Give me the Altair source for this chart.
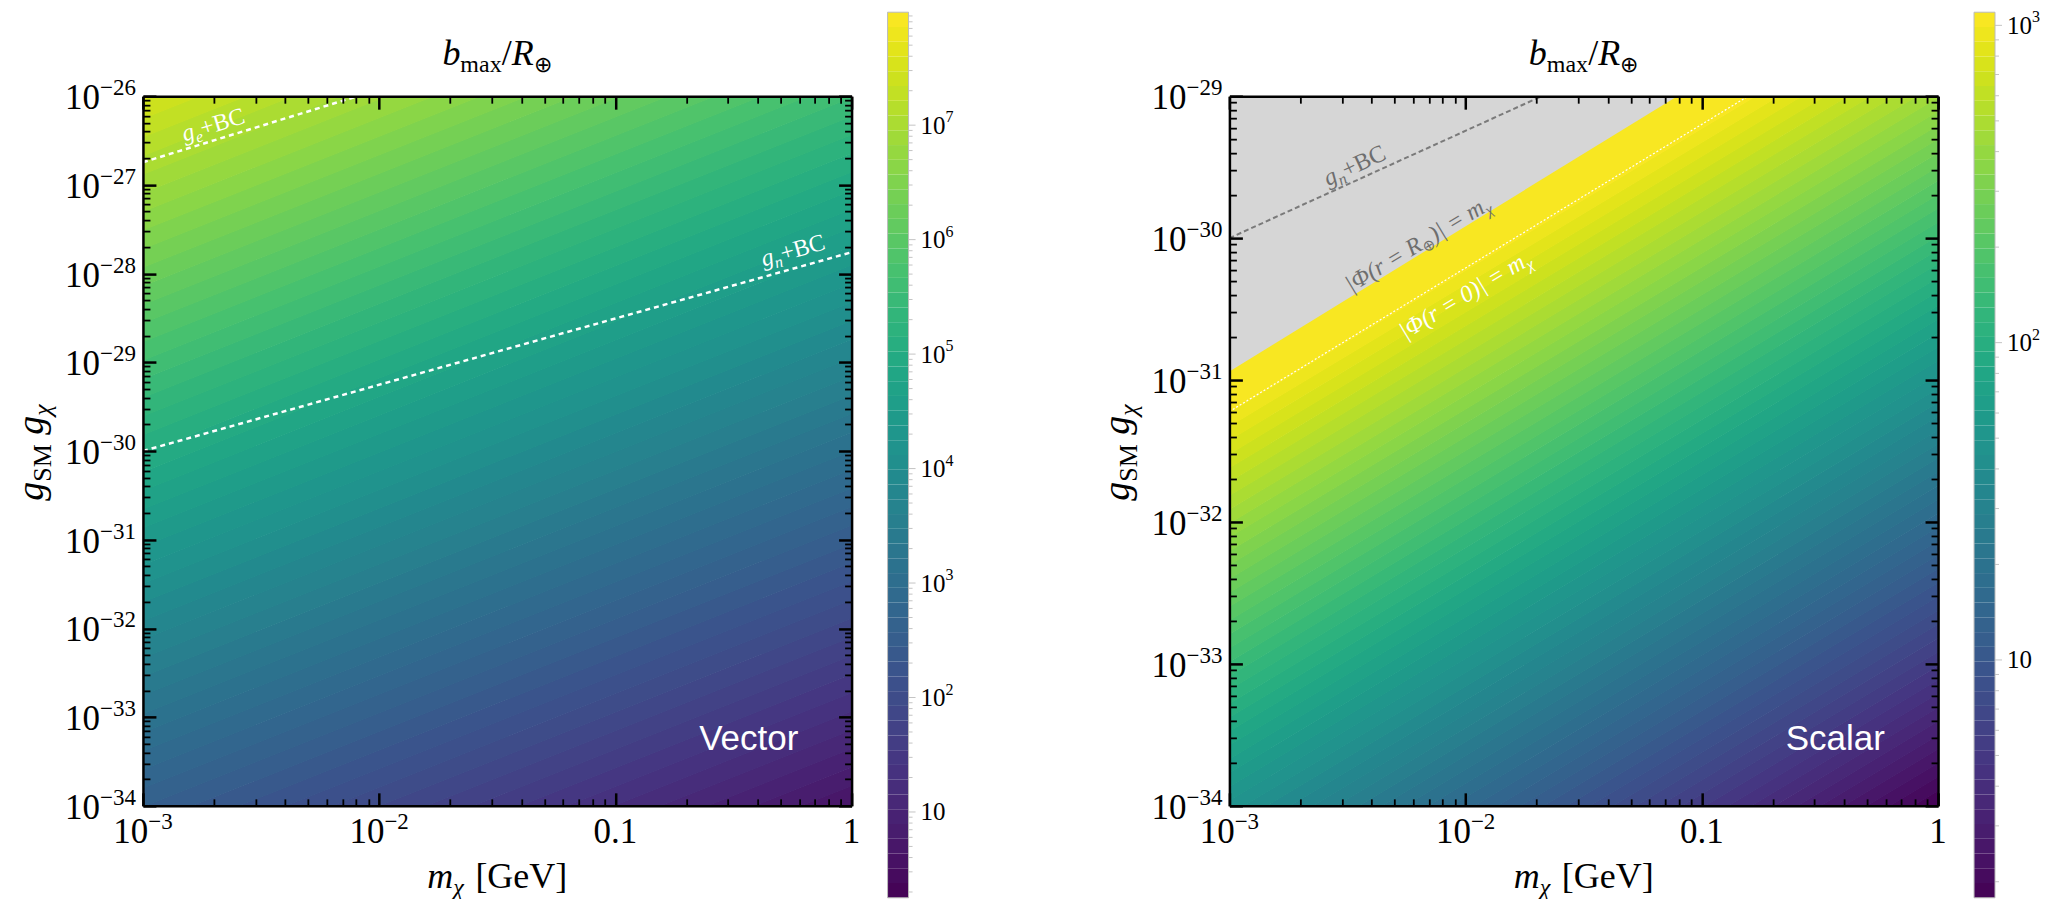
import numpy as np
import pandas as pd
import altair as alt

SERIF = "Liberation Serif"
SANS = "Liberation Sans"

# ---------------- values ----------------
X_DOMAIN = [1e-3, 1.0]
X_MAJOR = [1e-3, 1e-2, 1e-1, 1.0]
X_POW_TICKS = [1e-3, 1e-2]
X_POW_EXP = ["−3", "−2"]
X_PLAIN_TICKS = [1e-1, 1.0]
X_PLAIN_LABELS = ["0.1", "1"]

LEFT_Y_EXP = [-34, -33, -32, -31, -30, -29, -28, -27, -26]
RIGHT_Y_EXP = [-34, -33, -32, -31, -30, -29]

LEFT_CBAR_RANGE = [1.78, 9.7e7]
LEFT_CBAR_EXP = [1, 2, 3, 4, 5, 6, 7]
RIGHT_CBAR_RANGE = [1.78, 1.1e3]
RIGHT_CBAR_EXP = [1, 2, 3]

# iso-lines of log10(b_max/R): log10(g) where each decade level meets m = 1e-3 GeV
LEFT_ISO_LEVEL = [1, 2, 3, 4, 5, 6, 7]
LEFT_ISO_G_AT_MMIN = [-36.57, -34.94, -33.32, -31.69, -30.07, -28.44, -26.81]
LEFT_ISO_SLOPE = 1.057
LEFT_N_LEVELS = 60
RIGHT_ISO_LEVEL = [1, 2, 3]
RIGHT_ISO_G_AT_MMIN = [-35.42, -33.32, -31.22]
RIGHT_ISO_SLOPE = 1.0
RIGHT_N_LEVELS = 60

# curves (end points)
LEFT_GE_M = [1e-3, 8.1e-3]
LEFT_GE_G = [1.8e-27, 1e-26]
LEFT_GN_M = [1e-3, 1.0]
LEFT_GN_G = [1e-30, 1.74e-28]
RIGHT_GN_M = [1e-3, 0.021]
RIGHT_GN_G = [1e-30, 1e-29]
RIGHT_PHI0_M = [1e-3, 0.157]
RIGHT_PHI0_G = [6.0e-32, 1e-29]
RIGHT_PHIR_M = [1e-3, 0.0787]
RIGHT_PHIR_G = [1.15e-31, 1e-29]

# annotations: pieces (text, size, italic, lowered), anchor m, g, angle, colour
LEFT_ANN = [
    ([("g", 24, True, 0), ("e", 16, True, 5), ("+BC", 24, False, 0)], 1.98e-3, 4.8e-27, 343, "white"),
    ([("g", 24, True, 0), ("n", 16, True, 5), ("+BC", 24, False, 0)], 0.564, 1.84e-28, 344.5, "white"),
]
RIGHT_ANN = [
    ([("g", 24, True, 0), ("n", 16, True, 5), ("+BC", 24, False, 0)], 3.38e-3, 3.27e-30, 335, "#6e6e6e"),
    ([("|Φ(r = R", 24, True, 0), ("⊕", 15, False, 5), (")| = m", 24, True, 0), ("χ", 16, True, 5)],
     6.3e-3, 9.2e-31, 329, "#6e6e6e"),
    ([("|Φ(r = 0)| = m", 24, True, 0), ("χ", 16, True, 5)], 1.0e-2, 4.03e-31, 329, "white"),
]

PANEL_NAMES = ["Vector", "Scalar"]
PANEL_NAME_M = [0.367, 0.367]
PANEL_NAME_G = [5.7e-34, 2.96e-34]

# ---------------- layout ----------------
W, H = 709, 710
CB_X, CB_W, CB_TOP, CB_BOT = 745, 21, -84, 802

W_REG = {' ': 0.25, '[': 0.333, ']': 0.333, 'G': 0.722, 'e': 0.444, 'V': 0.722,
         'm': 0.778, 'a': 0.444, 'x': 0.5, 'S': 0.556, 'M': 0.889, '/': 0.278, '⊕': 0.84,
         '+': 0.564, 'B': 0.667, 'C': 0.667, '−': 0.564, '0': 0.5, '1': 0.5, '2': 0.5, '3': 0.5,
         '4': 0.5, '5': 0.5, '6': 0.5, '7': 0.5, '8': 0.5, '9': 0.5, '.': 0.25}
W_IT = {'b': 0.5, 'R': 0.611, 'g': 0.5, 'm': 0.722, 'χ': 0.55, '/': 0.278, 'e': 0.444, 'n': 0.5,
        '|': 0.276, 'Φ': 0.76, '(': 0.333, ')': 0.333, 'r': 0.389, ' ': 0.25, '=': 0.675, '0': 0.5}


def text_width(txt, size, italic):
    table = W_IT if italic else W_REG
    return sum(table.get(c, 0.5) for c in txt) * size


def contour_bands(levels, iso_g, slope, crange, n, overlap):
    fit = np.polyfit(levels, iso_g, 1)
    edges = np.linspace(np.log10(crange[0]), np.log10(crange[1]), n + 1)
    lm0 = np.log10(X_DOMAIN[0])
    rows, cbar = [], []
    for k in range(n):
        lo, hi = edges[k], edges[k + 1]
        val = 10 ** (0.5 * (lo + hi))
        cbar.append({"lo": 10 ** lo, "hi": 10 ** hi, "val": val})
        if k == 0:
            lo -= 20
        if k == n - 1:
            hi += 20
        for lm in (np.log10(X_DOMAIN[0]), np.log10(X_DOMAIN[1])):
            shift = slope * (lm - lm0)
            rows.append({"band": k, "m": 10 ** lm,
                         "g_lo": 10 ** (np.polyval(fit, lo) + shift),
                         "g_hi": 10 ** (np.polyval(fit, hi) + shift + overlap),
                         "val": val})
    return pd.DataFrame(rows), pd.DataFrame(cbar)


def axis(orient, values, major):
    return alt.Axis(orient=orient, values=values, grid=False, ticks=True, tickColor="black",
                    tickSize=alt.ExprRef(expr="-13" if major else "-7"),
                    tickWidth=2.5 if major else 1.8, labels=False, title=None, zindex=2,
                    domain=major, domainColor="black", domainWidth=2.5)


def title_pieces(pieces, center, base, rotated=False):
    widths = [text_width(t, s, i) for t, s, i, _ in pieces]
    total = sum(widths)
    layers, run = [], 0.0
    for (txt, size, italic, shift), w in zip(pieces, widths):
        if txt.strip():
            if rotated:
                x, y, ang = base + shift, center + total / 2 - run, 270
            else:
                x, y, ang = center - total / 2 + run, base + shift, 0
            layers.append(
                alt.Chart(pd.DataFrame({"t": [txt]})).mark_text(
                    align="left", baseline="alphabetic", font=SERIF, fontSize=size,
                    fontStyle="italic" if italic else "normal", color="black", angle=ang
                ).encode(x=alt.value(x), y=alt.value(y), text="t:N")
            )
        run += w
    return layers


def rotated_annotation(pieces, m, g, angle, color, xs, ys):
    widths = [text_width(t, s, i) for t, s, i, _ in pieces]
    total = sum(widths)
    layers, run = [], -total / 2
    for (txt, size, italic, shift), w in zip(pieces, widths):
        layers.append(
            alt.Chart(pd.DataFrame({"t": [txt], "m": [m], "g": [g]})).mark_text(
                align="left", baseline="alphabetic", font=SERIF, fontSize=size,
                fontStyle="italic" if italic else "normal", color=color, angle=angle,
                dx=run, dy=8 + shift
            ).encode(x=alt.X("m:Q", scale=xs, axis=None), y=alt.Y("g:Q", scale=ys, axis=None), text="t:N")
        )
        run += w
    return layers


def panel(y_exp, bands, cbar, crange, cexp, extra_layers, ann, name_idx):
    ydom = [10.0 ** y_exp[0], 10.0 ** y_exp[-1]]
    y_major = [10.0 ** e for e in y_exp]
    y_minor = [k * 10.0 ** d for d in y_exp[:-1] for k in range(2, 10)]
    x_minor = [k * 10.0 ** d for d in (-3, -2, -1) for k in range(2, 10)]
    xs = alt.Scale(type="log", domain=X_DOMAIN, nice=False)
    ys = alt.Scale(type="log", domain=ydom, nice=False)
    cs = alt.Scale(type="log", domain=crange, scheme="viridis", nice=False)
    cbs = alt.Scale(type="log", domain=crange, range=[CB_BOT, CB_TOP], nice=False)

    layers = []
    # filled contour bands
    layers.append(
        alt.Chart(bands).mark_area(clip=True, interpolate="linear").encode(
            x=alt.X("m:Q", scale=xs, axis=axis("bottom", X_MAJOR, True)),
            y=alt.Y("g_lo:Q", scale=ys, axis=axis("left", y_major, True)),
            y2="g_hi:Q",
            color=alt.Color("val:Q", scale=cs, legend=None),
            detail="band:N",
        )
    )
    layers += extra_layers(xs, ys)

    for pieces, m, g, ang, col in ann:
        layers += rotated_annotation(pieces, m, g, ang, col, xs, ys)
    layers.append(
        alt.Chart(pd.DataFrame({"t": [PANEL_NAMES[name_idx]], "m": [PANEL_NAME_M[name_idx]],
                                "g": [PANEL_NAME_G[name_idx]]})).mark_text(
            font=SANS, fontSize=35, color="white", align="center", baseline="middle"
        ).encode(x=alt.X("m:Q", scale=xs, axis=None), y=alt.Y("g:Q", scale=ys, axis=None), text="t:N")
    )

    # extra axes: minor ticks and mirrored ticks
    corner = pd.DataFrame({"m": X_DOMAIN, "g": ydom})
    for xo, yo, major in (("bottom", "left", False), ("top", "right", True), ("top", "right", False)):
        layers.append(
            alt.Chart(corner).mark_point(opacity=0).encode(
                x=alt.X("m:Q", scale=xs, axis=axis(xo, X_MAJOR if major else x_minor, major)),
                y=alt.Y("g:Q", scale=ys, axis=axis(yo, y_major if major else y_minor, major)),
            )
        )

    # tick labels 10^n with raised exponents
    ylab = pd.DataFrame({"g": y_major, "e": ["−" + str(-e) for e in y_exp]})
    exp_w = text_width("−26", 23, False)
    layers.append(alt.Chart(ylab).mark_text(
        align="right", baseline="alphabetic", font=SERIF, fontSize=35, color="black", dy=13
    ).encode(x=alt.value(-7 - exp_w), y=alt.Y("g:Q", scale=ys, axis=None), text=alt.value("10")))
    layers.append(alt.Chart(ylab).mark_text(
        align="right", baseline="alphabetic", font=SERIF, fontSize=23, color="black", dy=-1
    ).encode(x=alt.value(-7), y=alt.Y("g:Q", scale=ys, axis=None), text="e:N"))

    xlab = pd.DataFrame({"m": X_POW_TICKS, "e": X_POW_EXP})
    w10 = text_width("10", 35, False)
    tot = w10 + text_width("−3", 23, False)
    layers.append(alt.Chart(xlab).mark_text(
        align="left", baseline="alphabetic", font=SERIF, fontSize=35, color="black", dx=-tot / 2
    ).encode(x=alt.X("m:Q", scale=xs, axis=None), y=alt.value(H + 37), text=alt.value("10")))
    layers.append(alt.Chart(xlab).mark_text(
        align="left", baseline="alphabetic", font=SERIF, fontSize=23, color="black", dx=-tot / 2 + w10
    ).encode(x=alt.X("m:Q", scale=xs, axis=None), y=alt.value(H + 23), text="e:N"))
    layers.append(alt.Chart(pd.DataFrame({"m": X_PLAIN_TICKS, "t": X_PLAIN_LABELS})).mark_text(
        align="center", baseline="alphabetic", font=SERIF, fontSize=35, color="black"
    ).encode(x=alt.X("m:Q", scale=xs, axis=None), y=alt.value(H + 37), text="t:N"))

    # colour bar
    layers.append(alt.Chart(cbar).mark_rect().encode(
        x=alt.value(CB_X), x2=alt.value(CB_X + CB_W),
        y=alt.Y("lo:Q", scale=cbs, axis=None), y2="hi:Q",
        color=alt.Color("val:Q", scale=cs, legend=None)))
    lo_e = int(np.floor(np.log10(crange[0])))
    hi_e = int(np.floor(np.log10(crange[1])))
    cmaj = [10.0 ** e for e in cexp]
    cmin = [k * 10.0 ** d for d in range(lo_e, hi_e + 1) for k in range(2, 10)
            if crange[0] <= k * 10.0 ** d <= crange[1]]
    for vals, ln in ((cmaj, 7), (cmin, 4)):
        layers.append(alt.Chart(pd.DataFrame({"v": vals})).mark_rule(color="#c4c4c4", strokeWidth=1).encode(
            x=alt.value(CB_X + CB_W), x2=alt.value(CB_X + CB_W + ln),
            y=alt.Y("v:Q", scale=cbs, axis=None)))
    layers.append(alt.Chart(pd.DataFrame({"t": ["cb"]})).mark_rect(
        fillOpacity=0, stroke="#bbbbbb", strokeWidth=1).encode(
        x=alt.value(CB_X), x2=alt.value(CB_X + CB_W), y=alt.value(CB_TOP), y2=alt.value(CB_BOT)))
    clab = pd.DataFrame({"v": cmaj, "e": ["" if e == 1 else str(e) for e in cexp]})
    layers.append(alt.Chart(clab).mark_text(
        align="left", baseline="alphabetic", font=SERIF, fontSize=25, color="black", dy=8.5
    ).encode(x=alt.value(CB_X + CB_W + 12), y=alt.Y("v:Q", scale=cbs, axis=None), text=alt.value("10")))
    layers.append(alt.Chart(clab).mark_text(
        align="left", baseline="alphabetic", font=SERIF, fontSize=16, color="black", dy=-3
    ).encode(x=alt.value(CB_X + CB_W + 12 + text_width("10", 25, False)),
             y=alt.Y("v:Q", scale=cbs, axis=None), text="e:N"))
    # invisible guard so both panels have the same top extent
    layers.append(alt.Chart(pd.DataFrame({"t": ["g"]})).mark_rect(opacity=0).encode(
        x=alt.value(0), x2=alt.value(1), y=alt.value(-87), y2=alt.value(-86)))

    # title and axis titles
    layers += title_pieces([("b", 36, True, 0), ("max", 24, False, 7), ("/", 36, False, 0),
                            ("R", 36, True, 0), ("⊕", 22, False, 7)], W / 2, -31)
    layers += title_pieces([("m", 36, True, 0), ("χ", 24, True, 7), (" ", 36, False, 0),
                            ("[GeV]", 36, False, 0)], W / 2, 792)
    layers += title_pieces([("g", 38, True, 0), ("SM", 26, False, 8), (" ", 38, False, 0),
                            ("g", 38, True, 0), ("χ", 26, True, 8)], H / 2, -100, rotated=True)

    return alt.layer(*layers).resolve_axis(x="independent", y="independent").resolve_scale(
        y="independent").properties(width=W, height=H)


def line_layer(ms, gs, xs, ys, color, width, dash):
    return alt.Chart(pd.DataFrame({"m": ms, "g": gs})).mark_line(
        clip=True, color=color, strokeWidth=width, strokeDash=dash
    ).encode(x=alt.X("m:Q", scale=xs, axis=None), y=alt.Y("g:Q", scale=ys, axis=None))


def left_extras(xs, ys):
    return [line_layer(LEFT_GE_M, LEFT_GE_G, xs, ys, "white", 2.5, [5, 4]),
            line_layer(LEFT_GN_M, LEFT_GN_G, xs, ys, "white", 2.5, [5, 4])]


def right_extras(xs, ys):
    gray = pd.DataFrame({"m": RIGHT_PHIR_M, "g_lo": RIGHT_PHIR_G,
                         "g_hi": [RIGHT_PHIR_G[-1]] * len(RIGHT_PHIR_G)})
    return [
        alt.Chart(gray).mark_area(clip=True, color="#d6d6d6").encode(
            x=alt.X("m:Q", scale=xs, axis=None), y=alt.Y("g_lo:Q", scale=ys, axis=None), y2="g_hi:Q"),
        line_layer(RIGHT_GN_M, RIGHT_GN_G, xs, ys, "#7a7a7a", 2, [5, 3]),
        line_layer(RIGHT_PHI0_M, RIGHT_PHI0_G, xs, ys, "white", 1.2, [2, 2]),
    ]


left_bands, left_cbar = contour_bands(LEFT_ISO_LEVEL, LEFT_ISO_G_AT_MMIN, LEFT_ISO_SLOPE,
                                      LEFT_CBAR_RANGE, LEFT_N_LEVELS, 0.008)
right_bands, right_cbar = contour_bands(RIGHT_ISO_LEVEL, RIGHT_ISO_G_AT_MMIN, RIGHT_ISO_SLOPE,
                                        RIGHT_CBAR_RANGE, RIGHT_N_LEVELS, 0.005)

left = panel(LEFT_Y_EXP, left_bands, left_cbar, LEFT_CBAR_RANGE, LEFT_CBAR_EXP, left_extras, LEFT_ANN, 0)
right = panel(RIGHT_Y_EXP, right_bands, right_cbar, RIGHT_CBAR_RANGE, RIGHT_CBAR_EXP, right_extras,
              RIGHT_ANN, 1)

chart = alt.hconcat(left, right, spacing=144).resolve_scale(color="independent").properties(
    padding={"left": 4, "top": 0, "right": 5, "bottom": 2}
).configure_view(stroke="transparent")

chart.save("out.html", embed_options={"renderer": "svg", "actions": False})
